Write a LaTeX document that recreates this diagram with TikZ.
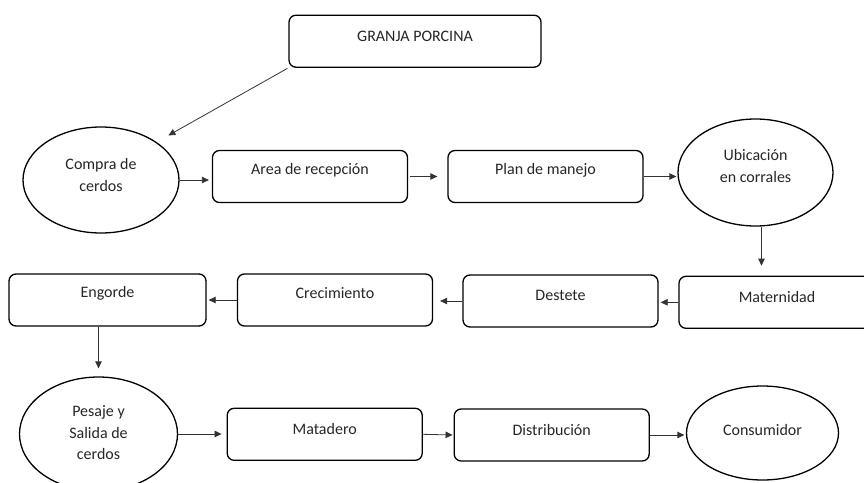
\documentclass[tikz,border=0pt]{standalone}
\usepackage{fontspec}
\setmainfont{Carlito}
\usetikzlibrary{shapes.geometric,arrows.meta}
\begin{document}
\begin{tikzpicture}[x=1pt,y=-1pt,
  box/.style={draw=black, line width=1.3pt, rounded corners=7pt, minimum width=195pt, minimum height=52pt, inner sep=0pt},
  oval/.style={draw=black, line width=1.3pt, ellipse, inner sep=0pt},
  lbl/.style={font=\fontsize{16}{21.5}\selectfont, align=center, text=black!85, inner sep=0pt},
  arr/.style={-{Triangle[length=7pt,width=6.5pt]}, line width=0.8pt, draw=black!80}
]
\useasboundingbox (0,0) rectangle (864,482);
% nodes
\node[box, minimum width=252pt, minimum height=52pt, label={[lbl,yshift=5pt]center:GRANJA PORCINA}] (granja) at (415,41.2) {};
\node[oval, minimum width=156pt, minimum height=106pt, label={[lbl,yshift=5pt]center:Compra de\\cerdos}] (compra) at (101,180) {};
\node[box, label={[lbl,yshift=6.5pt]center:Area de recepción}] (area) at (310,176.5) {};
\node[box, label={[lbl,yshift=6.5pt]center:Plan de manejo}] (plan) at (545.5,176.5) {};
\node[oval, minimum width=155pt, minimum height=107pt, label={[lbl,yshift=6.5pt]center:Ubicación\\en corrales}] (ubic) at (755.5,172.5) {};
\node[box, minimum width=196pt, label={[lbl,yshift=5.5pt]center:Maternidad}] (mat) at (777,302.3) {};
\node[box, label={[lbl,yshift=6pt]center:Destete}] (dest) at (560.5,301) {};
\node[box, label={[lbl,yshift=7pt]center:Crecimiento}] (crec) at (335,300) {};
\node[box, minimum width=197pt, label={[lbl,yshift=7pt]center:Engorde}] (engorde) at (107.5,300) {};
\node[oval, minimum width=158pt, minimum height=114pt, label={[lbl,yshift=1pt]center:Pesaje y\\Salida de\\cerdos}] (pesaje) at (98.5,434) {};
\node[box, label={[lbl,yshift=5.3pt]center:Matadero}] (matadero) at (324.7,434.3) {};
\node[box, label={[lbl,yshift=5pt]center:Distribución}] (dist) at (551.7,435) {};
\node[oval, minimum width=152pt, minimum height=94pt, label={[lbl,yshift=3pt]center:Consumidor}] (cons) at (762.5,433) {};
% connectors
\draw[arr, shorten <=1pt, shorten >=13.5pt] (granja.south west) -- (compra.north east);
\draw[arr, shorten >=3pt] (compra.east) -- (compra.east -| area.west);
\draw[arr, shorten <=2pt, shorten >=10pt] (area.east) -- (plan.west);
\draw[arr, shorten >=1pt] (plan.east) -- (plan.east -| ubic.west);
\draw[arr, shorten >=10pt] ([xshift=6pt]ubic.south) -- ([xshift=6pt]ubic.south |- mat.north);
\draw[arr, shorten >=2pt] (mat.west) -- (mat.west -| dest.east);
\draw[arr, shorten >=7pt] (dest.west) -- (dest.west -| crec.east);
\draw[arr, shorten >=2pt] (crec.west) -- (crec.west -| engorde.east);
\draw[arr, shorten >=8pt] (engorde.south -| pesaje.north) -- (pesaje.north);
\draw[arr, shorten >=5pt] (pesaje.east) -- (pesaje.east -| matadero.west);
\draw[arr, shorten >=1pt] (matadero.east) -- (dist.west);
\draw[arr, shorten >=1.5pt] (dist.east) -- (dist.east -| cons.west);
\end{tikzpicture}
\end{document}
